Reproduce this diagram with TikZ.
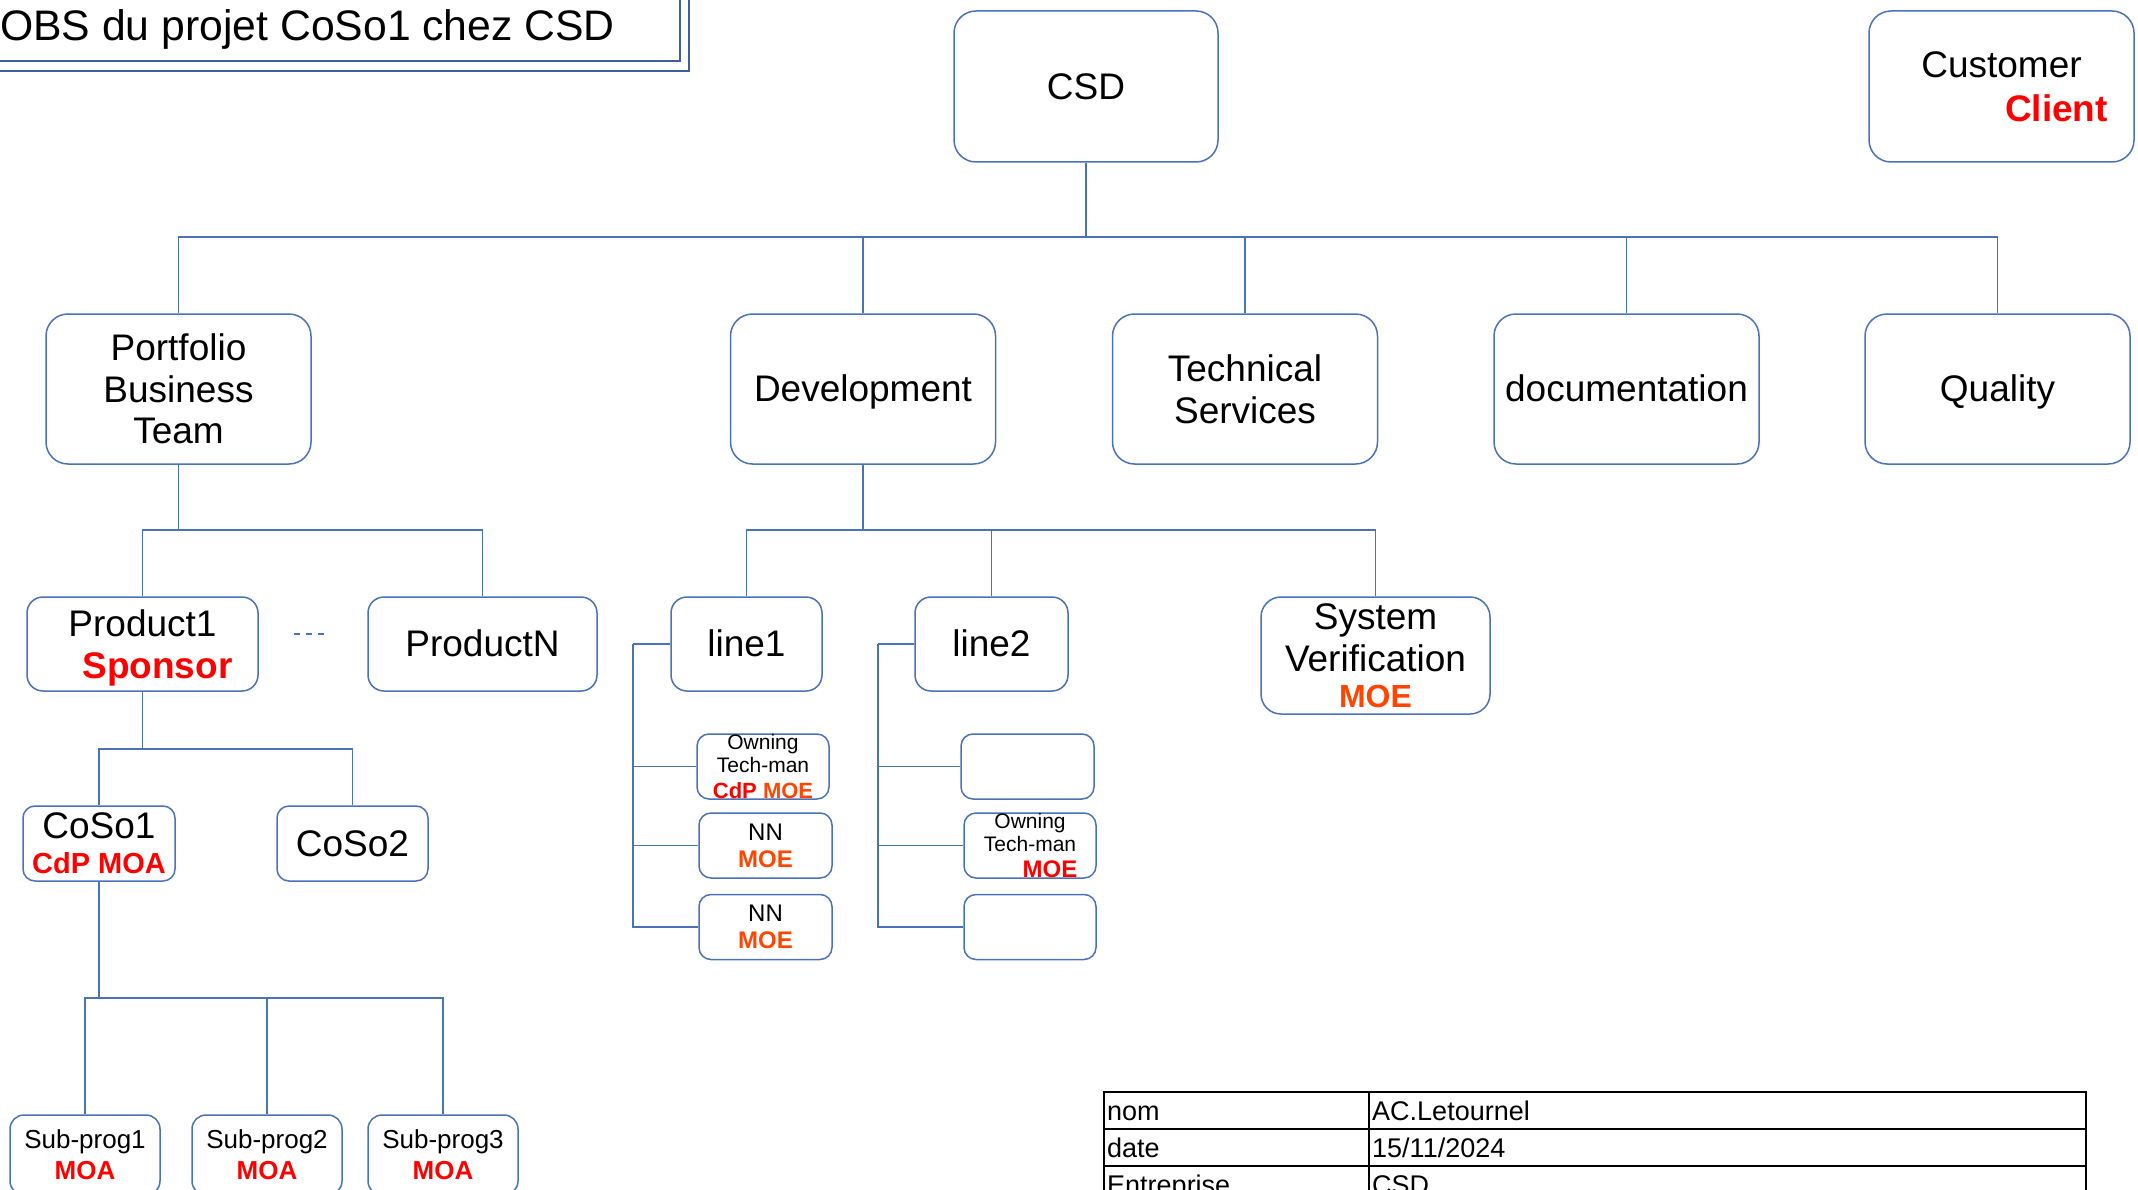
\documentclass[tikz,border=0pt]{standalone}
\usepackage{fontspec}
\setmainfont{Liberation Sans}
\usetikzlibrary{calc}
\definecolor{bline}{HTML}{4A72B8}
\definecolor{tline}{HTML}{3F5F9C}
\definecolor{moe}{HTML}{FF4500}
\begin{document}
\begin{tikzpicture}[x=1pt,y=-1pt,
  box/.style={draw=bline, line width=1.5pt, rounded corners=#1, inner sep=0pt, align=center, fill=white},
  box/.default=20pt,
  wire/.style={draw=bline, line width=1.4pt},
  big/.style={font=\fontsize{37}{42}\selectfont},
  one/.style={text height=27.5pt, text depth=2pt},
  lvltwo/.style={box=22pt, minimum width=265pt, minimum height=150pt},
  midbox/.style={box=16pt, minimum height=94pt},
  smallbox/.style={box=12pt, minimum width=133pt, minimum height=65pt},
  subbox/.style={box=14pt, minimum width=150pt, minimum height=80pt, font=\fontsize{26}{31}\selectfont},
  cell/.style={anchor=base west, inner sep=0pt, font=\fontsize{27}{32}\selectfont}
]
\useasboundingbox (0,0) rectangle (2138,1190);
\clip (0,0) rectangle (2138,1190);
\fill[white] (0,0) rectangle (2138,1190);

% title
\draw[tline, line width=1.5pt] (-5,61) -- (680,61) -- (680,-5);
\draw[tline, line width=1.5pt] (-5,71) -- (689,71) -- (689,-5);
\node[anchor=base west, inner sep=0pt, font=\fontsize{42.7}{50}\selectfont] (title) at (0,41) {OBS du projet CoSo1 chez CSD};

% top
\node[box=22pt, big, one, minimum width=264pt, minimum height=151pt] (csd) at (1086,86.5) {CSD};
\node[box=22pt, font=\fontsize{37}{44}\selectfont, minimum width=265pt, minimum height=151pt] (cust) at (2001.5,86.5) {Customer\\\hspace*{110pt}\textbf{\color{red}Client}};

% level 2
\node[lvltwo, font=\fontsize{37}{41.5}\selectfont] (port) at (178.5,389) {Portfolio\\Business\\Team};
\node[lvltwo, big, one] (dev) at (863,389) {Development};
\node[lvltwo, big] (tech) at (1245,389) {Technical\\Services};
\node[lvltwo, big, one] (doc) at (1626.5,389) {documentation};
\node[lvltwo, big, one] (qual) at (1997.5,389) {Quality};

\coordinate (bus) at (1086,237);
\draw[wire] (csd.south) -- (bus);
\foreach \n in {port,dev,tech,doc,qual} \draw[wire] (\n.north) |- (bus);

% portfolio subtree
\node[midbox, big, minimum width=231pt] (p1) at (142.5,644) {\rule{0pt}{35pt}Product1\\\hspace*{30pt}\textbf{\color{red}Sponsor}};
\node[midbox, big, one, minimum width=229pt] (pN) at (482.5,644) {ProductN};
\coordinate (j1) at (178.5,530);
\draw[wire] (port.south) -- (j1);
\draw[wire] (p1.north) |- (j1);
\draw[wire] (pN.north) |- (j1);
\draw[draw=bline, line width=1.2pt, dash pattern=on 6pt off 6pt] ($(p1.east)+(35,-10)$) -- ($(pN.west)+(-38,-10)$);

\node[box=12pt, font=\fontsize{37}{35}\selectfont, minimum width=152pt, minimum height=75pt] (coso1) at (99,843.5) {CoSo1\\{\fontsize{29}{35}\selectfont\bfseries\color{red}CdP MOA}};
\node[box=12pt, big, one, minimum width=151pt, minimum height=75pt] (coso2) at (352.5,843.5) {CoSo2};
\coordinate (j2) at (142.5,749);
\draw[wire] (p1.south) -- (j2);
\draw[wire] (coso1.north) |- (j2);
\draw[wire] (coso2.north) |- (j2);

\node[subbox] (sp1) at (85,1155) {Sub-prog1\\\textbf{\color{red}MOA}};
\node[subbox] (sp2) at (267,1155) {Sub-prog2\\\textbf{\color{red}MOA}};
\node[subbox] (sp3) at (443,1155) {Sub-prog3\\\textbf{\color{red}MOA}};
\coordinate (j3) at (99,998);
\draw[wire] (coso1.south) -- (j3);
\foreach \n in {sp1,sp2,sp3} \draw[wire] (\n.north) |- (j3);

% development subtree
\node[midbox, big, one, minimum width=151pt] (l1) at (746.5,644) {line1};
\node[midbox, big, one, minimum width=153pt] (l2) at (991.5,644) {line2};
\node[box=20pt, big, minimum width=229pt, minimum height=117pt] (sv) at (1375.5,655.5) {System\\Verification\\[-5.5pt]{\fontsize{32}{38}\selectfont\bfseries\color{moe}MOE}};
\coordinate (j4) at (863,530);
\draw[wire] (dev.south) -- (j4);
\foreach \n in {l1,l2,sv} \draw[wire] (\n.north) |- (j4);

\node[smallbox, minimum width=132pt, font=\fontsize{21}{23}\selectfont] (o1) at (763,766.5) {Owning\\Tech-man\\[2.5pt]{\fontsize{22}{25}\selectfont\bfseries{\color{red}CdP} \color{moe}MOE}};
\node[smallbox, font=\fontsize{24}{27}\selectfont] (n1) at (765.5,845.5) {NN\\\textbf{\color{moe}MOE}};
\node[smallbox, font=\fontsize{24}{27}\selectfont] (n2) at (765.5,927) {NN\\\textbf{\color{moe}MOE}};
\coordinate (k1) at (633,644);
\draw[wire] (l1.west) -- (k1);
\foreach \n in {o1,n1,n2} \draw[wire] (\n.west) -| (k1);

\node[smallbox] (e1) at (1027.5,766.5) {};
\node[smallbox, minimum width=132pt, font=\fontsize{21}{23}\selectfont] (o2) at (1030,845.5) {Owning\\Tech-man\\[3pt]\hspace*{40pt}{\fontsize{24}{27}\selectfont\bfseries\color{red}MOE}};
\node[smallbox, minimum width=132pt] (e2) at (1030,927) {};
\coordinate (k2) at (878,644);
\draw[wire] (l2.west) -- (k2);
\foreach \n in {e1,o2,e2} \draw[wire] (\n.west) -| (k2);

% table
\draw[black, line width=2pt] (1104,1215) -- (1104,1092) -- (2086,1092) -- (2086,1215);
\draw[black, line width=2pt] (1104,1129) -- (2086,1129);
\draw[black, line width=2pt] (1104,1166) -- (2086,1166);
\draw[black, line width=2pt] (1369,1092) -- (1369,1215);
\node[cell] (c11) at (1107,1120) {nom};
\node[cell] (c12) at (1372,1120) {AC.Letournel};
\node[cell] (c21) at (1107,1157) {date};
\node[cell] (c22) at (1372,1157) {15/11/2024};
\node[cell] (c31) at (1107,1194) {Entreprise};
\node[cell] (c32) at (1372,1194) {CSD};
\end{tikzpicture}
\end{document}
